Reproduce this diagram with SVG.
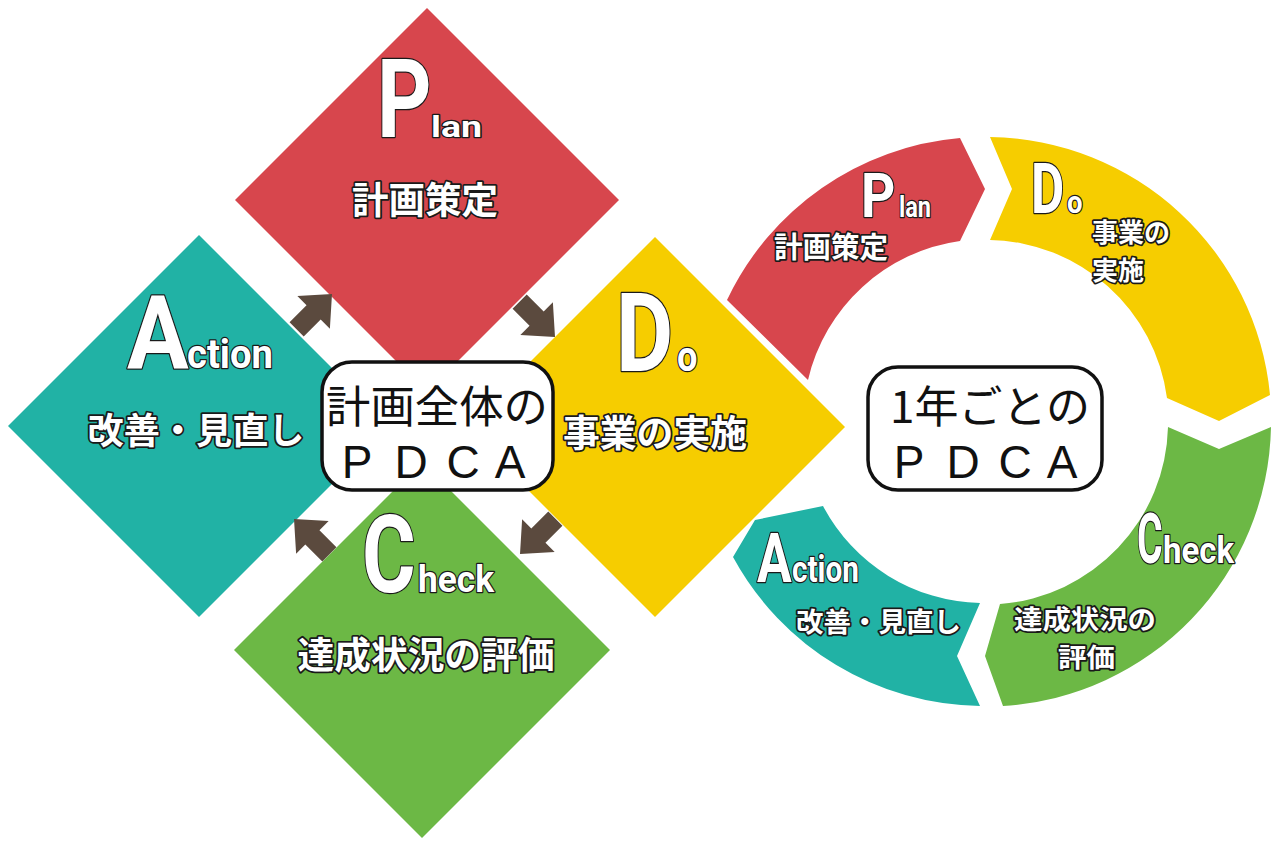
<svg xmlns="http://www.w3.org/2000/svg" width="1271" height="843" viewBox="0 0 1271 843">
<style>
.lat{font-family:Roboto,"Noto Sans",sans-serif;font-weight:700;fill:#fff;stroke:#1a1a1a;stroke-width:2.5;paint-order:stroke;stroke-linejoin:round}
.jp{font-family:"Noto Sans CJK JP",sans-serif;font-weight:700;fill:#fff;stroke:#1a1a1a;stroke-width:3.5;paint-order:stroke;stroke-linejoin:round}
.box{fill:#fff;stroke:#111;stroke-width:3.5}
.bt{font-family:"Noto Sans CJK JP",sans-serif;font-weight:400;fill:#111;font-size:44px;text-anchor:middle}
.pd{font-family:"Liberation Sans",Arial,sans-serif;font-weight:400;fill:#111;font-size:46px;text-anchor:middle}
.red{fill:#d7464d}.teal{fill:#21b2a5}.yel{fill:#f6cd00}.grn{fill:#6cb845}
.arr{fill:#5b4a3e}
</style>
<defs>
<path id="arrow" d="M0,0 L-26,-23 L-26,-10 L-50,-10 L-50,10 L-26,10 L-26,23 Z"/>
</defs>
<rect width="1271" height="843" fill="#fff"/>

<!-- Left: whole-plan PDCA -->
<g id="plan">
<polygon class="red" points="427,8 619,200 427,392 235,200"/>
<text class="lat" font-size="110" transform="translate(377,137) scale(0.77,1)">P</text>
<text class="lat" x="431" y="137" font-size="30" textLength="51" lengthAdjust="spacingAndGlyphs">lan</text>
<text class="jp" x="425" y="214" font-size="37" text-anchor="middle" textLength="146" lengthAdjust="spacingAndGlyphs">計画策定</text>
</g>
<g id="action">
<polygon class="teal" points="199,235 390,426 199,617 8,426"/>
<text class="lat" font-size="102" transform="translate(127,368) scale(0.9,1)">A</text>
<text class="lat" x="187" y="368" font-size="40" textLength="86" lengthAdjust="spacingAndGlyphs">ction</text>
<text class="jp" x="196" y="444" font-size="36" text-anchor="middle" textLength="217" lengthAdjust="spacingAndGlyphs">改善・見直し</text>
</g>
<g id="do">
<polygon class="yel" points="655,237 845,427 655,617 465,427"/>
<text class="lat" font-size="110" transform="translate(616,371) scale(0.8,1)">D</text>
<text class="lat" font-size="42" transform="translate(677,371) scale(0.86,1)">o</text>
<text class="jp" x="655" y="447" font-size="37" text-anchor="middle" textLength="184" lengthAdjust="spacingAndGlyphs">事業の実施</text>
</g>
<g id="check">
<polygon class="grn" points="422,462 610,650 422,838 234,650"/>
<text class="lat" font-size="108" transform="translate(362,592) scale(0.76,1)">C</text>
<text class="lat" x="418" y="592" font-size="37" textLength="76" lengthAdjust="spacingAndGlyphs">heck</text>
<text class="jp" x="426" y="669" font-size="37" text-anchor="middle" textLength="257" lengthAdjust="spacingAndGlyphs">達成状況の評価</text>
</g>
<g id="center-overall">
<rect class="box" x="322" y="362" width="231" height="128" rx="30"/>
<text class="bt" x="437" y="423" textLength="222" lengthAdjust="spacingAndGlyphs">計画全体の</text>
<text class="pd" y="478"><tspan x="357">P</tspan><tspan x="411">D</tspan><tspan x="463">C</tspan><tspan x="510">A</tspan></text>
</g>

<g id="connectors">
<use href="#arrow" class="arr" transform="translate(332,294) rotate(-45)"/>
<use href="#arrow" class="arr" transform="translate(555,337) rotate(45)"/>
<use href="#arrow" class="arr" transform="translate(520,554) rotate(135)"/>
<use href="#arrow" class="arr" transform="translate(294,519) rotate(-135)"/>
</g>

<!-- Right: yearly PDCA ring -->
<g id="ring-plan">
<path class="red" d="M727,300 A285,285 0 0 1 960,138 L985,189 L960,241 A182,182 0 0 0 808,380 Z"/>
<text class="lat" font-size="62" transform="translate(861,217) scale(0.86,1)">P</text>
<text class="lat" x="899" y="217" font-size="30" textLength="32" lengthAdjust="spacingAndGlyphs">lan</text>
<text class="jp" x="774" y="258" font-size="29" textLength="114" lengthAdjust="spacingAndGlyphs">計画策定</text>
</g>
<g id="ring-do">
<path class="yel" d="M990,137 A285,285 0 0 1 1270,395 L1219,421 L1167,398 A182,182 0 0 0 990,240 L1012,189 Z"/>
<text class="lat" font-size="70" transform="translate(1031,213) scale(0.73,1)">D</text>
<text class="lat" font-size="32" transform="translate(1067,213) scale(0.86,1)">o</text>
<text class="jp" x="1092" y="242" font-size="26" textLength="78" lengthAdjust="spacingAndGlyphs">事業の</text>
<text class="jp" x="1092" y="280" font-size="26" textLength="52" lengthAdjust="spacingAndGlyphs">実施</text>
</g>
<g id="ring-check">
<path class="grn" d="M1271,427 A285,285 0 0 1 1003,706 L985,656 L1000,604 A182,182 0 0 0 1168,427 L1219,449 Z"/>
<text class="lat" font-size="70" transform="translate(1137,563) scale(0.56,1)">C</text>
<text class="lat" x="1163" y="563" font-size="36" textLength="71" lengthAdjust="spacingAndGlyphs">heck</text>
<text class="jp" x="1014" y="629" font-size="26" textLength="142" lengthAdjust="spacingAndGlyphs">達成状況の</text>
<text class="jp" x="1058" y="667" font-size="26" textLength="57" lengthAdjust="spacingAndGlyphs">評価</text>
</g>
<g id="ring-action">
<path class="teal" d="M980,706 A285,285 0 0 1 733,557 L755,520 L823,506 A182,182 0 0 0 980,603 L957,656 Z"/>
<text class="lat" font-size="68" transform="translate(757,582) scale(0.76,1)">A</text>
<text class="lat" x="792" y="582" font-size="36" textLength="67" lengthAdjust="spacingAndGlyphs">ction</text>
<text class="jp" x="796" y="632" font-size="27" textLength="165" lengthAdjust="spacingAndGlyphs">改善・見直し</text>
</g>
<g id="center-yearly">
<rect class="box" x="868" y="367" width="234" height="123" rx="30"/>
<text class="bt" x="990" y="423">1年ごとの</text>
<text class="pd" y="478"><tspan x="909">P</tspan><tspan x="963">D</tspan><tspan x="1015">C</tspan><tspan x="1062">A</tspan></text>
</g>
</svg>
